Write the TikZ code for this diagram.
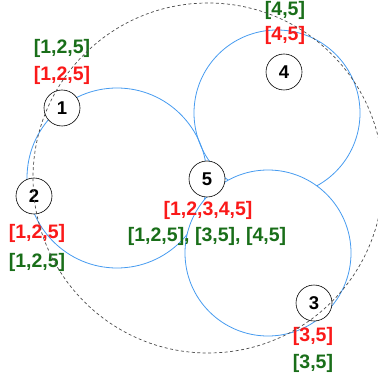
\documentclass[tikz,border=0pt]{standalone}
\usepackage{fontspec}
\setmainfont{Liberation Sans}
\usetikzlibrary{positioning}
\definecolor{ringblue}{RGB}{70,155,240}
\definecolor{setred}{RGB}{250,25,25}
\definecolor{setgreen}{RGB}{25,110,25}
\tikzset{
  num/.style={circle,draw,line width=0.6pt,fill=white,minimum size=36pt,inner sep=0pt,font=\bfseries\fontsize{18.5}{20}\selectfont},
  lbl/.style={inner sep=0pt,font=\bfseries\fontsize{19.5}{21}\selectfont},
  ring/.style={ringblue,line width=0.8pt}
}
\begin{document}
\begin{tikzpicture}[x=1pt,y=-1pt]
\useasboundingbox (0,0) rectangle (377,379);
% blue rings
\draw[ring] (117,178) circle[radius=90pt];
\draw[ring] (277,113) circle[radius=83pt];
\draw[ring,fill=white] (268,253) circle[radius=83pt];
% numbered nodes
\foreach \n/\x/\y in {1/62/108,2/34/196,3/314/303,4/284/72,5/207/179}{\node[num] (n\n) at (\x,\y) {\n};}
% sets
\node[lbl,setgreen] (g1) at (62,48) {[1,2,5]};
\node[lbl,setred] (r1) at (62,75) {[1,2,5]};
\node[lbl,setred] (r2) at (37,233) {[1,2,5]};
\node[lbl,setgreen] (g2) at (37,262) {[1,2,5]};
\node[lbl,setred] (r3) at (313,336) {[3,5]};
\node[lbl,setgreen] (g3) at (313,363) {[3,5]};
\node[lbl,setgreen] (g4) at (285,10) {[4,5]};
\node[lbl,setred] (r4) at (285,35) {[4,5]};
\node[lbl,setred] (r5) at (208,210) {[1,2,3,4,5]};
\node[lbl,setgreen] (g5) at (207,236) {[1,2,5], [3,5], [4,5]};
% outer ring
\draw[dash pattern=on 3pt off 2.5pt,black!70,line width=0.7pt] (208,178) circle[radius=175pt];
\end{tikzpicture}
\end{document}
